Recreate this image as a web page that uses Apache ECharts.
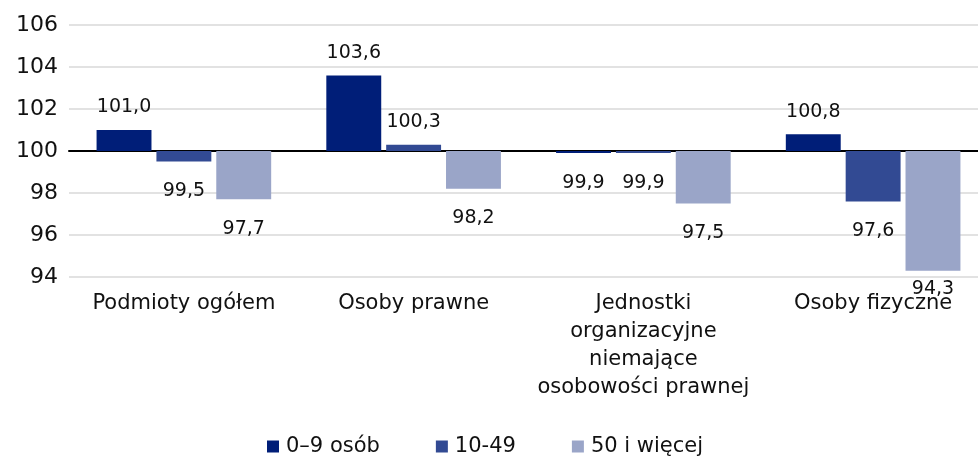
<!DOCTYPE html>
<html>
<head>
    <meta charset="utf-8">
    <title>Dynamika</title>
    <script src="https://cdn.jsdelivr.net/npm/echarts@6.0.0/dist/echarts.min.js"></script>
    <style>
        html, body { margin: 0; padding: 0; background: #fff; }
        #chart { width: 978px; height: 457px; }
    </style>
</head>
<body>
<div id="chart"></div>
<script>
    // dane
    const categories = ['Podmioty ogółem', 'Osoby prawne', 'Jednostki\norganizacyjne\nniemające\nosobowości prawnej', 'Osoby fizyczne'];
    const seriesNames = ['0–9 osób', '10-49', '50 i więcej'];
    const small = [101.0, 103.6, 99.9, 100.8];
    const medium = [99.5, 100.3, 99.9, 97.6];
    const large = [97.7, 98.2, 97.5, 94.3];
    const colors = ['#001e78', '#324a93', '#9aa5c8'];
    const base = 100;
    const font = 'DejaVu Sans';

    const fmt = v => (v + base).toFixed(1).replace('.', ',');

    function makeSeries(name, values, color) {
        return {
            name: name,
            type: 'bar',
            barGap: '9%',
            barCategoryGap: '24%',
            itemStyle: { color: color },
            data: values.map(v => {
                const d = v - base;
                const item = { value: d };
                // etykiety poza końcem słupka, przycięte do obszaru wykresu
                if (d < 0) {
                    item.label = { position: 'bottom', distance: d < -5 ? 9 : 20 };
                } else {
                    item.label = { position: 'top', distance: 13 };
                }
                return item;
            }),
            label: {
                show: true,
                fontSize: 19,
                color: '#111',
                fontFamily: font,
                formatter: p => fmt(p.value)
            }
        };
    }

    const chart = echarts.init(document.getElementById('chart'));
    chart.setOption({
        animation: false,
        color: colors,
        grid: { left: 69, right: -10, top: 25, bottom: 180, outerBoundsMode: 'none' },
        legend: {
            top: 431,
            left: 262,
            itemWidth: 12,
            itemHeight: 12,
            itemGap: 56,
            icon: 'rect',
            textStyle: { fontSize: 21, color: '#111', fontFamily: font, padding: [0, 0, 0, 2] },
            data: seriesNames
        },
        xAxis: {
            type: 'category',
            data: categories,
            axisTick: { show: false },
            axisLine: { onZero: true, lineStyle: { color: '#000', width: 2 } },
            axisLabel: {
                interval: 0,
                fontSize: 21,
                color: '#111',
                lineHeight: 28,
                fontFamily: font,
                margin: 13
            }
        },
        yAxis: {
            type: 'value',
            min: -6,
            max: 6,
            interval: 2,
            axisLabel: {
                fontSize: 22,
                color: '#111',
                fontFamily: font,
                margin: 11,
                formatter: v => String(v + base)
            },
            splitLine: { lineStyle: { color: '#d9d9d9', width: 1.5 } }
        },
        series: [
            makeSeries(seriesNames[0], small, colors[0]),
            makeSeries(seriesNames[1], medium, colors[1]),
            makeSeries(seriesNames[2], large, colors[2])
        ]
    });
</script>
</body>
</html>
